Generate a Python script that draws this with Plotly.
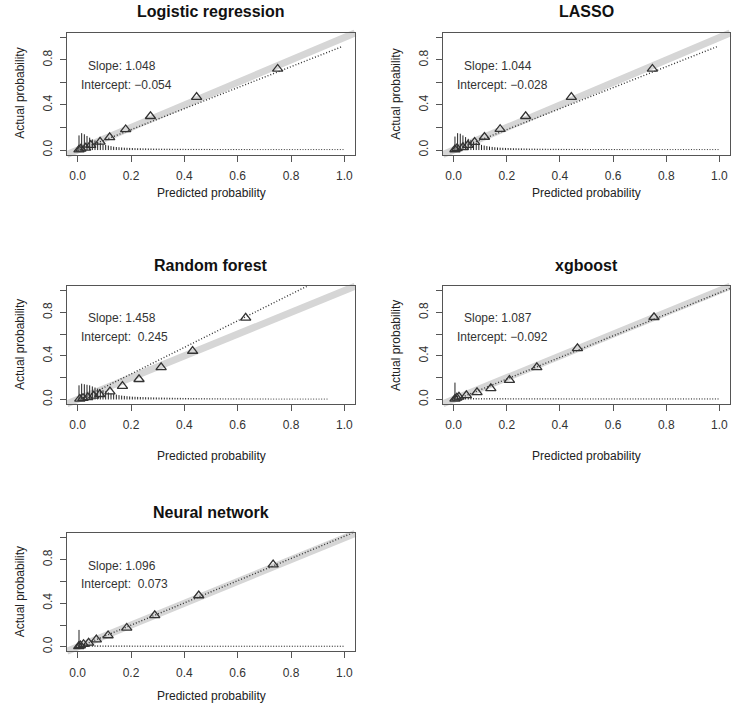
import plotly.graph_objects as go

W, H = 752, 711

# ---- data ------------------------------------------------------------------
models = ["Logistic regression", "LASSO", "Random forest", "xgboost", "Neural network"]
slope_txt = ["1.048", "1.044", "1.458", "1.087", "1.096"]
intercept_txt = ["\u22120.054", "\u22120.028", "\u00a00.245", "\u22120.092", "\u00a00.073"]

# grouped points (triangles): mean predicted vs observed
lr_pred = [0.005, 0.012, 0.03, 0.049, 0.084, 0.12, 0.18, 0.273, 0.446, 0.75]
lr_obs = [0.003, 0.01, 0.02, 0.044, 0.073, 0.112, 0.183, 0.30, 0.47, 0.72]
lasso_pred = [0.005, 0.013, 0.035, 0.054, 0.079, 0.116, 0.175, 0.271, 0.443, 0.748]
lasso_obs = [0.005, 0.015, 0.024, 0.044, 0.071, 0.116, 0.185, 0.30, 0.47, 0.72]
rf_pred = [0.008, 0.02, 0.038, 0.06, 0.083, 0.121, 0.168, 0.23, 0.313, 0.431, 0.63]
rf_obs = [0.005, 0.012, 0.02, 0.033, 0.048, 0.072, 0.123, 0.186, 0.295, 0.445, 0.75]
xgb_pred = [0.005, 0.012, 0.02, 0.048, 0.088, 0.14, 0.21, 0.313, 0.466, 0.754]
xgb_obs = [0.005, 0.015, 0.025, 0.038, 0.066, 0.102, 0.178, 0.295, 0.47, 0.755]
nn_pred = [0.004, 0.01, 0.022, 0.041, 0.07, 0.114, 0.184, 0.289, 0.454, 0.733]
nn_obs = [0.004, 0.012, 0.024, 0.036, 0.066, 0.104, 0.173, 0.289, 0.471, 0.755]

# dotted calibration curve (end points)
lr_fit_x, lr_fit_y = [0.0, 0.99], [-0.005, 0.917]
lasso_fit_x, lasso_fit_y = [0.0, 0.99], [-0.005, 0.917]
rf_fit_x, rf_fit_y = [0.0, 0.86], [-0.01, 1.04]
xgb_fit_x, xgb_fit_y = [0.0, 1.04], [-0.01, 1.02]
nn_fit_x, nn_fit_y = [0.0, 1.04], [-0.005, 1.055]

# spike histogram of predicted probabilities (bin centres, relative heights)
spike_x = [
    0.005, 0.015, 0.025, 0.035, 0.045, 0.055, 0.065, 0.075, 0.085, 0.095,
    0.105, 0.115, 0.125, 0.135, 0.145, 0.155, 0.165, 0.175, 0.185, 0.195,
    0.205, 0.215, 0.225, 0.235, 0.245, 0.255, 0.265, 0.275, 0.285, 0.295,
    0.305, 0.315, 0.325, 0.335, 0.345, 0.355, 0.365, 0.375, 0.385, 0.395,
    0.405, 0.415, 0.425, 0.435, 0.445, 0.455, 0.465, 0.475, 0.485, 0.495,
    0.505, 0.515, 0.525, 0.535, 0.545, 0.555, 0.565, 0.575, 0.585, 0.595,
    0.605, 0.615, 0.625, 0.635, 0.645, 0.655, 0.665, 0.675, 0.685, 0.695,
    0.705, 0.715, 0.725, 0.735, 0.745, 0.755, 0.765, 0.775, 0.785, 0.795,
    0.805, 0.815, 0.825, 0.835, 0.845, 0.855, 0.865, 0.875, 0.885, 0.895,
    0.905, 0.915, 0.925, 0.935, 0.945, 0.955, 0.965, 0.975, 0.985, 0.995,
]
lr_spikes = [
    0.13, 0.15, 0.14, 0.125, 0.11, 0.095, 0.085, 0.07, 0.06, 0.05,
    0.045, 0.04, 0.035, 0.03, 0.027, 0.025, 0.023, 0.021, 0.02, 0.019,
    0.018, 0.017, 0.016, 0.016, 0.015, 0.015, 0.014, 0.014, 0.013, 0.013,
    0.013, 0.012, 0.012, 0.012, 0.012, 0.011, 0.011, 0.011, 0.011, 0.011,
    0.01, 0.01, 0.01, 0.01, 0.01, 0.01, 0.01, 0.01, 0.01, 0.01,
    0.009, 0.009, 0.009, 0.009, 0.009, 0.009, 0.009, 0.009, 0.009, 0.009,
    0.009, 0.009, 0.009, 0.009, 0.009, 0.008, 0.008, 0.008, 0.008, 0.008,
    0.008, 0.008, 0.008, 0.008, 0.008, 0.008, 0.008, 0.008, 0.008, 0.008,
    0.008, 0.008, 0.008, 0.008, 0.008, 0.008, 0.008, 0.008, 0.008, 0.008,
    0.008, 0.008, 0.008, 0.008, 0.008, 0.008, 0.008, 0.008, 0.008, 0.008,
]
lasso_spikes = [
    0.12, 0.15, 0.145, 0.13, 0.115, 0.1, 0.088, 0.075, 0.063, 0.053,
    0.046, 0.04, 0.035, 0.031, 0.028, 0.025, 0.023, 0.021, 0.02, 0.019,
    0.018, 0.017, 0.016, 0.016, 0.015, 0.015, 0.014, 0.014, 0.013, 0.013,
    0.013, 0.012, 0.012, 0.012, 0.012, 0.011, 0.011, 0.011, 0.011, 0.011,
    0.01, 0.01, 0.01, 0.01, 0.01, 0.01, 0.01, 0.01, 0.01, 0.01,
    0.009, 0.009, 0.009, 0.009, 0.009, 0.009, 0.009, 0.009, 0.009, 0.009,
    0.009, 0.009, 0.009, 0.009, 0.009, 0.008, 0.008, 0.008, 0.008, 0.008,
    0.008, 0.008, 0.008, 0.008, 0.008, 0.008, 0.008, 0.008, 0.008, 0.008,
    0.008, 0.008, 0.008, 0.008, 0.008, 0.008, 0.008, 0.008, 0.008, 0.008,
    0.008, 0.008, 0.008, 0.008, 0.008, 0.008, 0.008, 0.008, 0.008, 0.008,
]
rf_spikes = [
    0.13, 0.145, 0.14, 0.135, 0.13, 0.12, 0.11, 0.1, 0.09, 0.085,
    0.075, 0.065, 0.055, 0.05, 0.045, 0.04, 0.036, 0.033, 0.03, 0.028,
    0.026, 0.025, 0.024, 0.023, 0.022, 0.021, 0.02, 0.02, 0.019, 0.019,
    0.018, 0.018, 0.017, 0.017, 0.016, 0.016, 0.015, 0.015, 0.015, 0.014,
    0.014, 0.014, 0.013, 0.013, 0.013, 0.012, 0.012, 0.012, 0.012, 0.011,
    0.011, 0.011, 0.011, 0.011, 0.01, 0.01, 0.01, 0.01, 0.01, 0.01,
    0.01, 0.01, 0.009, 0.009, 0.009, 0.009, 0.009, 0.009, 0.009, 0.009,
    0.009, 0.009, 0.008, 0.008, 0.008, 0.008, 0.008, 0.008, 0.008, 0.008,
    0.008, 0.008, 0.008, 0.008, 0.008, 0.008, 0.008, 0.008, 0.008, 0.008,
    0.008, 0.008, 0.008, 0.008, 0.0, 0.0, 0.0, 0.0, 0.0, 0.0,
]
xgb_spikes = [
    0.155, 0.035, 0.022, 0.018, 0.016, 0.015, 0.014, 0.013, 0.013, 0.012,
    0.012, 0.012, 0.012, 0.012, 0.012, 0.012, 0.012, 0.012, 0.012, 0.012,
    0.011, 0.011, 0.011, 0.011, 0.011, 0.011, 0.011, 0.011, 0.011, 0.011,
    0.011, 0.011, 0.011, 0.011, 0.011, 0.011, 0.011, 0.011, 0.011, 0.011,
    0.01, 0.01, 0.01, 0.01, 0.01, 0.01, 0.01, 0.01, 0.01, 0.01,
    0.01, 0.01, 0.01, 0.01, 0.01, 0.01, 0.01, 0.01, 0.01, 0.01,
    0.01, 0.01, 0.01, 0.01, 0.01, 0.01, 0.01, 0.01, 0.01, 0.01,
    0.01, 0.01, 0.01, 0.01, 0.01, 0.01, 0.01, 0.01, 0.01, 0.01,
    0.01, 0.01, 0.01, 0.01, 0.01, 0.01, 0.01, 0.01, 0.01, 0.01,
    0.01, 0.01, 0.01, 0.01, 0.01, 0.01, 0.01, 0.01, 0.01, 0.01,
]
nn_spikes = [
    0.155, 0.045, 0.025, 0.018, 0.016, 0.015, 0.014, 0.013, 0.013, 0.012,
    0.012, 0.012, 0.012, 0.012, 0.012, 0.012, 0.012, 0.012, 0.012, 0.012,
    0.011, 0.011, 0.011, 0.011, 0.011, 0.011, 0.011, 0.011, 0.011, 0.011,
    0.011, 0.011, 0.011, 0.011, 0.011, 0.011, 0.011, 0.011, 0.011, 0.011,
    0.01, 0.01, 0.01, 0.01, 0.01, 0.01, 0.01, 0.01, 0.01, 0.01,
    0.01, 0.01, 0.01, 0.01, 0.01, 0.01, 0.01, 0.01, 0.01, 0.01,
    0.01, 0.01, 0.01, 0.01, 0.01, 0.01, 0.01, 0.01, 0.01, 0.01,
    0.01, 0.01, 0.01, 0.01, 0.01, 0.01, 0.01, 0.01, 0.01, 0.01,
    0.01, 0.01, 0.01, 0.01, 0.01, 0.01, 0.01, 0.01, 0.01, 0.01,
    0.01, 0.01, 0.01, 0.01, 0.01, 0.01, 0.01, 0.01, 0.01, 0.01,
]

tick_vals = [0.0, 0.2, 0.4, 0.6, 0.8, 1.0]
x_tick_text = ["0.0", "0.2", "0.4", "0.6", "0.8", "1.0"]
y_tick_text = ["0.0", "", "0.4", "", "0.8", ""]

# ---- layout helpers ----------------------------------------------------------
FONT = "Liberation Sans, Arial, Helvetica, sans-serif"
AX_RANGE = [-0.04, 1.04]


def px(x):
    return x / W


def py(y):
    return 1 - y / H


# plot boxes in pixels: (left, top, right, bottom), plus y of x-axis title
boxes = [
    (67, 33, 355, 155, 194),
    (443, 33, 730, 155, 194),
    (67, 287, 355, 405, 457),
    (443, 287, 730, 405, 457),
    (67, 535, 355, 653, 698),
]

panels = [
    (lr_pred, lr_obs, lr_fit_x, lr_fit_y, lr_spikes),
    (lasso_pred, lasso_obs, lasso_fit_x, lasso_fit_y, lasso_spikes),
    (rf_pred, rf_obs, rf_fit_x, rf_fit_y, rf_spikes),
    (xgb_pred, xgb_obs, xgb_fit_x, xgb_fit_y, xgb_spikes),
    (nn_pred, nn_obs, nn_fit_x, nn_fit_y, nn_spikes),
]

fig = go.Figure()
annotations = []
shapes = []
layout_axes = {}

for i, (name, (pred, obs, fx, fy, spk)) in enumerate(zip(models, panels)):
    n = "" if i == 0 else str(i + 1)
    xa, ya = "x" + n, "y" + n
    l, t, r, b, xt = boxes[i]

    # spike histogram
    sx, sy = [], []
    for xv, hv in zip(spike_x, spk):
        if hv <= 0:
            continue
        sx += [xv, xv, None]
        sy += [0, hv, None]
    fig.add_trace(go.Scatter(x=sx, y=sy, mode="lines", xaxis=xa, yaxis=ya,
                             line=dict(color="#222222", width=1), hoverinfo="skip"))

    # dotted calibration line
    fig.add_trace(go.Scatter(x=fx, y=fy, mode="lines", xaxis=xa, yaxis=ya,
                             line=dict(color="#333333", width=1.4, dash="1px,2px")))

    # grouped observations
    fig.add_trace(go.Scatter(x=pred, y=obs, mode="markers", xaxis=xa, yaxis=ya,
                             marker=dict(symbol="triangle-up-open", size=9,
                                         color="#333333", line=dict(width=1.3))))

    # ideal line (diagonal of the square data range)
    shapes.append(dict(type="line", xref=xa + " domain", yref=ya + " domain",
                       x0=0, y0=0, x1=1, y1=1, layer="below",
                       line=dict(color="#d6d6d6", width=7)))

    common = dict(range=AX_RANGE, showgrid=False, zeroline=False, showline=True,
                  mirror=True, linecolor="#555555", linewidth=1, ticks="outside",
                  ticklen=6, tickcolor="#555555", tickwidth=1, tickvals=tick_vals,
                  tickfont=dict(family=FONT, size=12, color="#333333"))
    layout_axes["xaxis" + n] = dict(common, domain=[px(l), px(r)], anchor=ya,
                                    ticktext=x_tick_text, ticklabelstandoff=4)
    layout_axes["yaxis" + n] = dict(common, domain=[py(b), py(t)], anchor=xa,
                                    ticktext=y_tick_text, tickangle=-90,
                                    ticklabelstandoff=3)

    cx = px((l + r) / 2)
    annotations.append(dict(text="<b>" + name + "</b>", x=cx, y=py(t - 21),
                            xref="paper", yref="paper", xanchor="center",
                            yanchor="middle", showarrow=False,
                            font=dict(family=FONT, size=16, color="#111111")))
    annotations.append(dict(text="Predicted probability", x=cx, y=py(xt),
                            xref="paper", yref="paper", xanchor="center",
                            yanchor="middle", showarrow=False,
                            font=dict(family=FONT, size=12, color="#222222")))
    annotations.append(dict(text="Actual probability", x=px(l - 47),
                            y=py((t + b) / 2), xref="paper", yref="paper",
                            xanchor="center", yanchor="middle",
                            textangle=-90, showarrow=False,
                            font=dict(family=FONT, size=12, color="#222222")))
    annotations.append(dict(text="Slope: " + slope_txt[i], x=0.033, y=0.745,
                            xref=xa, yref=ya, xanchor="left", yanchor="middle",
                            showarrow=False,
                            font=dict(family=FONT, size=12, color="#333333")))
    annotations.append(dict(text="Intercept: " + intercept_txt[i], x=0.004, y=0.575,
                            xref=xa, yref=ya, xanchor="left", yanchor="middle",
                            showarrow=False,
                            font=dict(family=FONT, size=12, color="#333333")))

fig.update_layout(
    width=W,
    height=H,
    margin=dict(l=0, r=0, t=0, b=0),
    showlegend=False,
    paper_bgcolor="white",
    plot_bgcolor="white",
    annotations=annotations,
    shapes=shapes,
    font=dict(family=FONT),
    **layout_axes,
)

# drop the default page margin so the figure sits at the window's top-left corner
fig.write_html("out.html", config={"displayModeBar": False},
               post_script="document.body.style.margin = '0';")
